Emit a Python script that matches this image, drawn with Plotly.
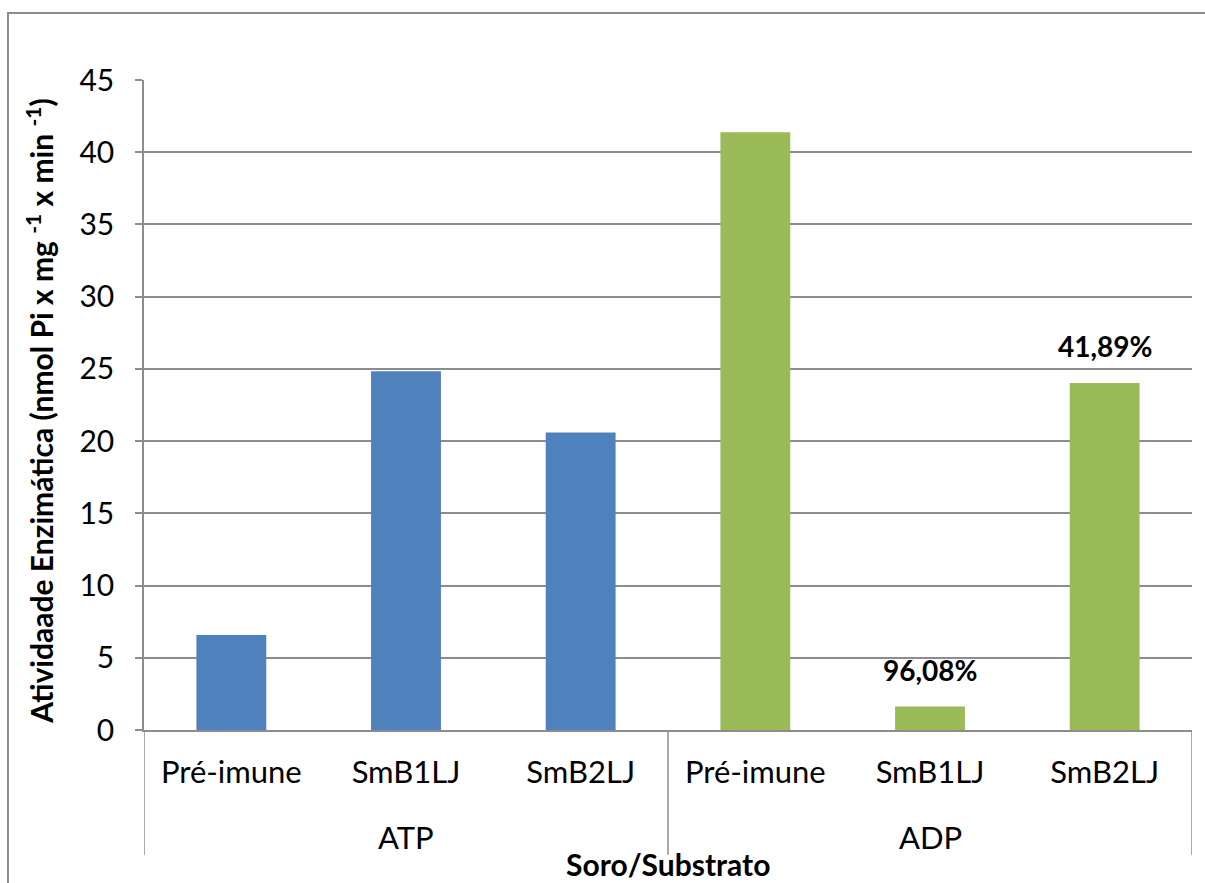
import plotly.graph_objects as go

# Enzymatic activity per serum, grouped by substrate
substrates = ["ATP", "ADP"]
sera = ["Pré-imune", "SmB1LJ", "SmB2LJ"]
atp_values = [6.58, 24.83, 20.6]
adp_values = [41.39, 1.62, 24.03]
adp_labels = ["", "96,08%", "41,89%"]

blue = "#4F81BD"
green = "#9BBB59"
grid = "#8C8C8C"
font_family = "Lato, 'Open Sans', sans-serif"

# one category key per (substrate, serum) pair
keys = {sub: [f"{sub}/{s}" for s in sera] for sub in substrates}
all_keys = keys["ATP"] + keys["ADP"]

fig = go.Figure()
fig.add_trace(go.Bar(
    x=keys["ATP"], y=atp_values,
    marker=dict(color=blue, line=dict(width=0)),
    width=0.4, showlegend=False,
))
fig.add_trace(go.Bar(
    x=keys["ADP"], y=adp_values,
    marker=dict(color=green, line=dict(width=0)),
    width=0.4, showlegend=False,
))

annotations = []
# inhibition percentages above the ADP bars
for k, val, lab in zip(keys["ADP"], adp_values, adp_labels):
    if lab:
        annotations.append(dict(
            x=k, y=val, xref="x", yref="y",
            text=f"<b>{lab}</b>", showarrow=False,
            yanchor="bottom", yshift=18,
            font=dict(family=font_family, size=28, color="#000000"),
        ))

# substrate group labels under the serum labels
n = len(sera)
for g, sub in enumerate(substrates):
    annotations.append(dict(
        x=g * n + (n - 1) / 2, y=-0.165, xref="x", yref="paper",
        text=sub, showarrow=False, xanchor="center", yanchor="middle",
        font=dict(family=font_family, size=31, color="#000000"),
    ))

# axis titles
annotations.append(dict(
    x=0.5, y=-0.2354, xref="paper", yref="paper",
    text="<b>Soro/Substrato</b>", showarrow=False,
    xanchor="center", yanchor="bottom", borderpad=0,
    font=dict(family=font_family, size=30, color="#000000"),
))
annotations.append(dict(
    x=-0.1, y=0.49, xref="paper", yref="paper",
    text="<b>Atividaade Enzimática (nmol Pi x mg <sup>-1</sup> x min <sup>-1</sup>)</b>",
    showarrow=False, textangle=-90,
    xanchor="center", yanchor="middle",
    font=dict(family=font_family, size=30, color="#000000"),
))

# group dividers below the category axis
shapes = []
for g in range(len(substrates) + 1):
    shapes.append(dict(
        type="line", xref="x", yref="paper",
        x0=g * n - 0.5, x1=g * n - 0.5, y0=0, y1=-0.192,
        line=dict(color=grid, width=1.5),
    ))
# chart area border
shapes.append(dict(
    type="rect", xref="paper", yref="paper",
    x0=-0.1298, x1=1.05, y0=-0.3, y1=1.103,
    line=dict(color=grid, width=2), fillcolor="rgba(0,0,0,0)",
    layer="below",
))

fig.update_layout(
    width=1205, height=883,
    margin=dict(l=144, r=13, t=80, b=153),
    paper_bgcolor="white", plot_bgcolor="white",
    barmode="overlay",
    font=dict(family=font_family, size=30, color="#000000"),
    annotations=annotations,
    shapes=shapes,
)

fig.update_yaxes(
    range=[0, 45], dtick=5,
    showgrid=True, gridcolor=grid, gridwidth=1.5,
    showline=True, linecolor=grid, linewidth=1.5,
    ticks="outside", ticklen=7, tickcolor=grid, tickwidth=1.5,
    tickfont=dict(size=30), ticklabelstandoff=15,
    zeroline=False,
)

fig.update_xaxes(
    type="category", categoryorder="array", categoryarray=all_keys,
    range=[-0.5, len(all_keys) - 0.5],
    tickvals=all_keys, ticktext=sera * len(substrates),
    showline=True, linecolor=grid, linewidth=1.5,
    ticks="", tickfont=dict(size=31), ticklabelstandoff=14,
    showgrid=False,
)

fig.write_html("out.html")
